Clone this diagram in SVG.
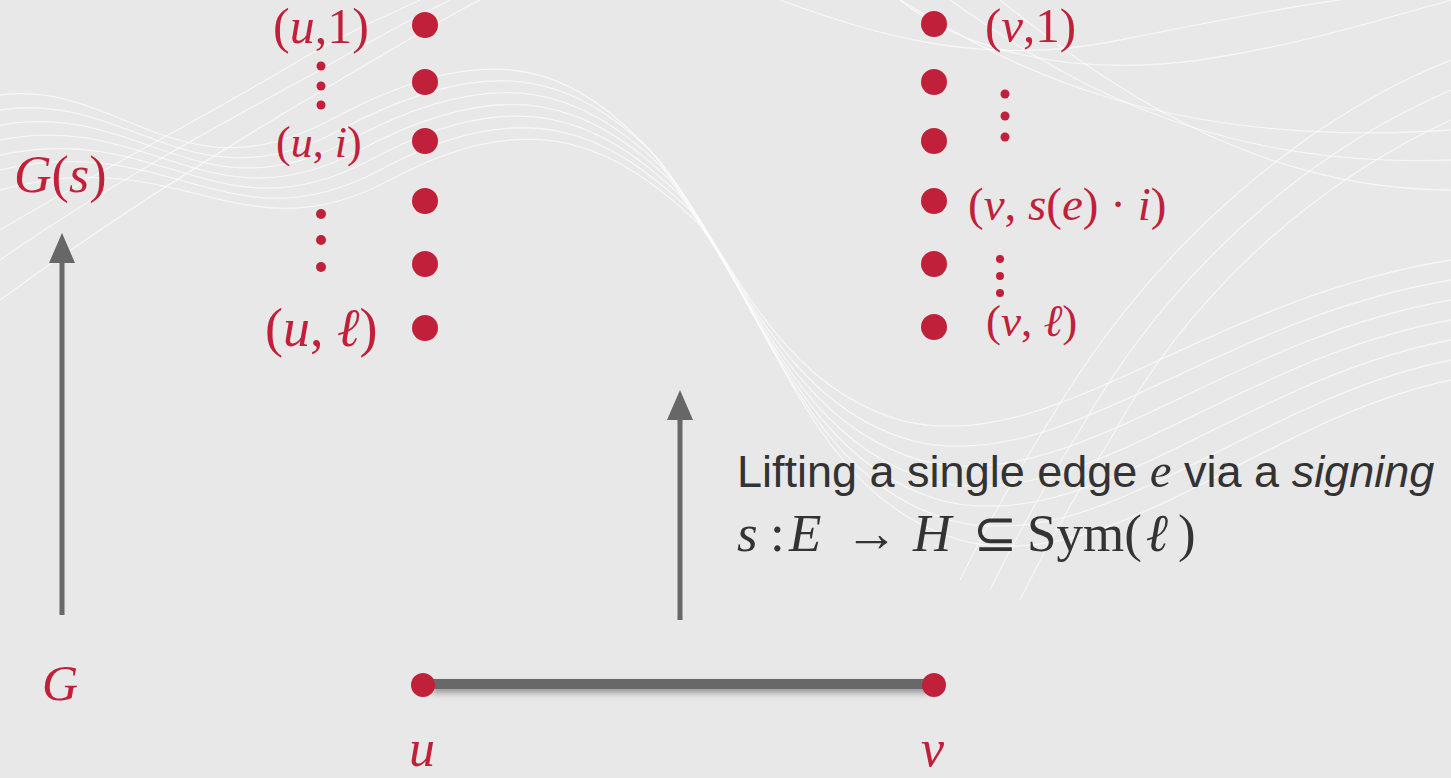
<svg xmlns="http://www.w3.org/2000/svg" width="1451" height="778" viewBox="0 0 1451 778">
<defs>
<style>
.m{font-family:"Liberation Serif",serif;fill:#c1203a}
.i{font-style:italic}
.dot{fill:#c1203a}
.wave{fill:none;stroke:#ffffff;stroke-width:1.3;opacity:0.6}
.arr{stroke:#676767;stroke-width:5;fill:none}
.txt{font-family:"Liberation Sans",Arial,sans-serif;fill:#333333}
</style>
<marker id="ah" viewBox="0 0 30 26" refX="4" refY="13" markerWidth="30" markerHeight="26" markerUnits="userSpaceOnUse" orient="auto">
<path d="M0,0 L30,13 L0,26 Z" fill="#676767"/>
</marker>
<filter id="sh" filterUnits="userSpaceOnUse" x="400" y="660" width="560" height="60">
<feGaussianBlur in="SourceAlpha" stdDeviation="3"/>
<feOffset dx="2" dy="4"/>
<feComponentTransfer><feFuncA type="linear" slope="0.35"/></feComponentTransfer>
<feMerge><feMergeNode/><feMergeNode in="SourceGraphic"/></feMerge>
</filter>
</defs>
<rect width="1451" height="778" fill="#e8e8e8"/>
<g id="background-waves">
<path class="wave" d="M0,95 C120,80 180,200 330,120 C480,40 560,60 640,140 C720,220 760,380 900,420 C1050,460 1200,300 1451,260"/>
<path class="wave" d="M0,110 C130,90 190,210 340,130 C490,50 570,75 650,150 C730,240 770,400 910,440 C1060,480 1210,320 1451,280"/>
<path class="wave" d="M0,125 C140,100 200,220 350,140 C500,60 580,90 660,165 C740,260 780,420 920,460 C1070,500 1220,340 1451,300"/>
<path class="wave" d="M0,140 C150,110 210,230 360,150 C510,70 590,105 670,180 C750,280 790,440 930,480 C1080,520 1230,360 1451,320"/>
<path class="wave" d="M0,155 C160,120 220,240 370,160 C520,80 600,120 680,195 C760,300 800,460 940,500 C1090,540 1240,380 1451,340"/>
<path class="wave" d="M0,170 C170,130 230,250 380,170 C530,90 610,135 690,210 C770,320 810,480 950,520 C1100,560 1250,400 1451,360"/>
<path class="wave" d="M0,190 C180,140 240,260 390,180 C540,100 620,150 700,225 C780,340 820,500 960,540 C1110,580 1260,420 1451,380"/>
<path class="wave" d="M0,230 C100,170 200,120 300,60 C360,25 400,10 420,0"/>
<path class="wave" d="M0,260 C100,190 210,130 320,70 C380,35 420,15 450,0"/>
<path class="wave" d="M0,300 C110,220 220,150 340,80 C400,45 440,20 480,0"/>
<path class="wave" d="M900,0 C1000,60 1150,150 1451,130"/>
<path class="wave" d="M950,0 C1050,70 1200,170 1451,160"/>
<path class="wave" d="M1000,0 C1100,80 1250,190 1451,190"/>
<path class="wave" d="M1451,60 C1300,120 1150,250 1050,420 C1000,500 980,540 960,580"/>
<path class="wave" d="M1451,90 C1310,150 1170,270 1080,430 C1030,510 1010,550 990,590"/>
<path class="wave" d="M1451,120 C1320,180 1190,290 1110,440 C1060,520 1040,560 1020,600"/>
<path class="wave" d="M900,0 C950,40 1050,80 1200,60 C1300,45 1380,20 1451,0"/>
<path class="wave" d="M780,0 C860,30 980,70 1120,40 C1220,20 1300,5 1340,0"/>
</g>
<g id="connectors">
<line id="arrow-left" class="arr" x1="62" y1="615" x2="62" y2="259" marker-end="url(#ah)"/>
<line id="arrow-mid" class="arr" x1="680" y1="620" x2="680" y2="416" marker-end="url(#ah)"/>
<rect id="edge-uv" x="430" y="679" width="498" height="10" fill="#676767" filter="url(#sh)"/>
</g>
<g id="label-Gs"><text class="m" x="14" y="192" font-size="52"><tspan class="i">G</tspan>(<tspan class="i">s</tspan>)</text></g>
<g id="label-G"><text class="m i" x="42" y="700" font-size="50">G</text></g>
<g id="node-u">
<circle class="dot" cx="423" cy="685" r="12"/>
<text class="m i" x="409" y="766" font-size="52">u</text>
</g>
<g id="node-v">
<circle class="dot" cx="934" cy="685" r="12"/>
<text class="m i" x="921" y="766" font-size="52">v</text>
</g>
<g id="fiber-u">
<circle class="dot" cx="425" cy="25" r="13"/>
<circle class="dot" cx="425" cy="82" r="13"/>
<circle class="dot" cx="425" cy="141" r="13"/>
<circle class="dot" cx="425" cy="201" r="13"/>
<circle class="dot" cx="425" cy="264" r="13"/>
<circle class="dot" cx="425" cy="328" r="13"/>
<text class="m" x="273" y="43" font-size="50">(<tspan class="i">u</tspan>,1)</text>
<circle class="dot" cx="321" cy="66" r="4.5"/>
<circle class="dot" cx="321" cy="86" r="4.5"/>
<circle class="dot" cx="321" cy="105" r="4.5"/>
<text class="m" x="276" y="157" font-size="44">(<tspan class="i">u</tspan>, <tspan class="i">i</tspan>)</text>
<circle class="dot" cx="321" cy="214" r="5"/>
<circle class="dot" cx="321" cy="240" r="5"/>
<circle class="dot" cx="321" cy="267" r="5"/>
<text class="m" x="265" y="346" font-size="54">(<tspan class="i">u</tspan>, <tspan class="i">ℓ</tspan>)</text>
</g>
<g id="fiber-v">
<circle class="dot" cx="934" cy="24" r="13"/>
<circle class="dot" cx="934" cy="82" r="13"/>
<circle class="dot" cx="934" cy="141" r="13"/>
<circle class="dot" cx="934" cy="201" r="13"/>
<circle class="dot" cx="934" cy="264" r="13"/>
<circle class="dot" cx="934" cy="327" r="13"/>
<text class="m" x="985" y="42" font-size="49">(<tspan class="i">v</tspan>,1)</text>
<circle class="dot" cx="1005" cy="94" r="4.5"/>
<circle class="dot" cx="1005" cy="116" r="4.5"/>
<circle class="dot" cx="1005" cy="137" r="4.5"/>
<text class="m" x="968" y="220" font-size="47">(<tspan class="i">v</tspan>, <tspan class="i">s</tspan>(<tspan class="i">e</tspan>) · <tspan class="i">i</tspan>)</text>
<circle class="dot" cx="1000" cy="259" r="4"/>
<circle class="dot" cx="1000" cy="276" r="4"/>
<circle class="dot" cx="1000" cy="293" r="4"/>
<text class="m" x="986" y="336" font-size="45">(<tspan class="i">v</tspan>, <tspan class="i">ℓ</tspan>)</text>
</g>
<g id="caption">
<text class="txt" x="737" y="487" font-size="45">Lifting a single edge <tspan font-family="Liberation Serif" font-style="italic" font-size="49">e</tspan> via a <tspan font-style="italic">signing</tspan></text>
<text y="551" font-size="53" font-family="Liberation Serif" fill="#333333"><tspan x="737" font-style="italic">s</tspan><tspan x="770">:</tspan><tspan x="789" font-style="italic">E</tspan><tspan x="845">→</tspan><tspan x="913" font-style="italic">H</tspan><tspan x="973">⊆</tspan><tspan x="1027">Sym(</tspan><tspan x="1146" font-style="italic">ℓ</tspan><tspan x="1178">)</tspan></text>
</g>
</svg>
